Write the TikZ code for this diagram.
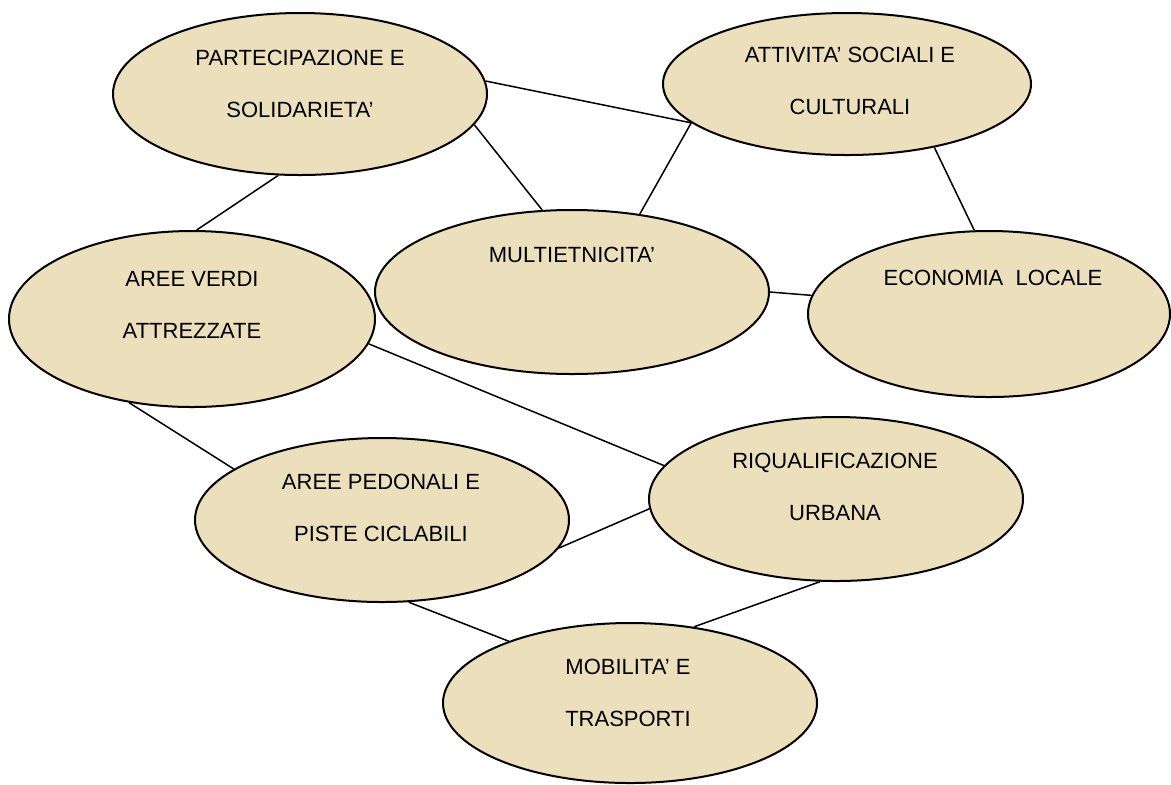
\documentclass[tikz,border=0pt]{standalone}
\usepackage{fontspec}
\setmainfont{Liberation Sans}
\usetikzlibrary{shapes.geometric}
\definecolor{pergamena}{RGB}{236,223,188}
\tikzset{
  bolla/.style={ellipse, draw=black, line width=1pt, fill=pergamena, inner sep=0pt},
  scritta/.style={align=center, font=\fontsize{11}{26}\selectfont, inner sep=0pt},
  legame/.style={line width=0.75pt}
}
\begin{document}
\begin{tikzpicture}[x=0.5pt, y=-0.5pt]
        \useasboundingbox (0,0) rectangle (1171,784);
        % ellissi
        \node[bolla, minimum width=187pt, minimum height=81pt] (part) at (300,94) {};
        \node[bolla, minimum width=184pt, minimum height=71pt] (att) at (847,84) {};
        \node[bolla, minimum width=197pt, minimum height=82pt] (multi) at (572,292) {};
        \node[bolla, minimum width=181pt, minimum height=83pt] (eco) at (989,314) {};
        \node[bolla, minimum width=183pt, minimum height=88pt] (verdi) at (192,319) {};
        \node[bolla, minimum width=187pt, minimum height=82pt] (pedo) at (382,520) {};
        \node[bolla, minimum width=187pt, minimum height=82pt] (riq) at (836,499) {};
        \node[bolla, minimum width=187pt, minimum height=80pt] (mob) at (630,703) {};
        % collegamenti
        \draw[legame] (part.4) -- (att.194);
        \draw[legame] (part.-10) -- (multi.110);
        \draw[legame] (part.255) -- (verdi.87);
        \draw[legame] (att.194) -- (multi.49);
        \draw[legame] (att.-36) -- (eco.100);
        \draw[legame] (multi.0) -- (eco.174);
        \draw[legame] (verdi.-8) -- (riq.169);
        \draw[legame] (verdi.233) -- (pedo.161);
        \draw[legame] (pedo.-9) -- (riq.183);
        \draw[legame] (pedo.-72) -- (mob.153);
        \draw[legame] (riq.259) -- (mob.50);
        % testi
        \node[scritta] (tpart) at (300,84) {PARTECIPAZIONE E\\SOLIDARIETA'};
        \node[scritta] (tatt) at (850,81) {ATTIVITA' SOCIALI E\\CULTURALI};
        \node[scritta] (tmulti) at (572,255) {MULTIETNICITA'};
        \node[scritta] (teco) at (993,278) {ECONOMIA\ \ LOCALE};
        \node[scritta] (tverdi) at (192,305) {AREE VERDI\\ATTREZZATE};
        \node[scritta] (tpedo) at (381,508) {AREE PEDONALI E\\PISTE CICLABILI};
        \node[scritta] (triq) at (835,487) {RIQUALIFICAZIONE\\URBANA};
        \node[scritta] (tmob) at (628,693) {MOBILITA' E\\TRASPORTI};
    \end{tikzpicture}
\end{document}
